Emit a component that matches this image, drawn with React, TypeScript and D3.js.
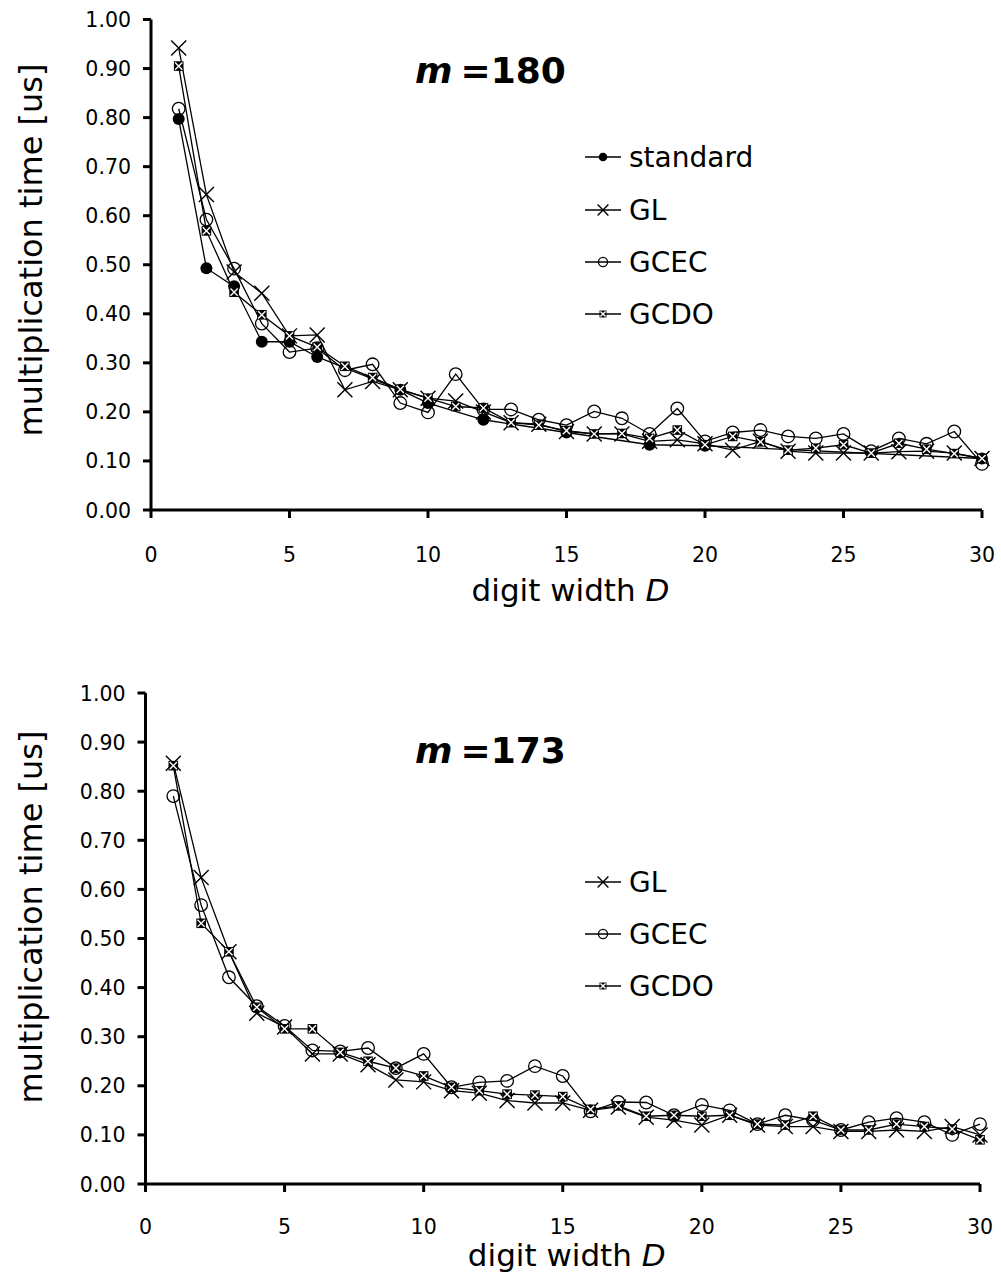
import React, { useEffect, useRef } from "react";
import * as d3 from "d3";

// digit width D on the x axis
const digitWidths = d3.range(1, 31);
const yTicks = [0, 0.1, 0.2, 0.3, 0.4, 0.5, 0.6, 0.7, 0.8, 0.9, 1.0];
const xTicks = [0, 5, 10, 15, 20, 25, 30];

// m = 180
const std180D = [1, 2, 3, 4, 5, 6, 9, 10, 12, 15, 18, 20, 30];
const std180 = [0.797, 0.493, 0.456, 0.343, 0.343, 0.312, 0.245, 0.218, 0.184, 0.158, 0.133, 0.131, 0.105];
const gl180 = [0.942, 0.643, 0.485, 0.442, 0.355, 0.357, 0.245, 0.262, 0.245, 0.228, 0.222, 0.2, 0.178, 0.175, 0.16,
  0.155, 0.155, 0.14, 0.143, 0.135, 0.122, 0.14, 0.12, 0.116, 0.116, 0.116, 0.119, 0.12, 0.116, 0.105];
const gcec180 = [0.818, 0.592, 0.492, 0.38, 0.322, 0.33, 0.285, 0.297, 0.218, 0.199, 0.277, 0.205, 0.205, 0.184, 0.173,
  0.201, 0.187, 0.155, 0.207, 0.14, 0.158, 0.163, 0.15, 0.146, 0.155, 0.12, 0.146, 0.135, 0.16, 0.094];
const gcdo180 = [0.905, 0.569, 0.444, 0.398, 0.355, 0.332, 0.293, 0.27, 0.246, 0.228, 0.211, 0.208, 0.178, 0.173, 0.162,
  0.155, 0.156, 0.146, 0.163, 0.133, 0.15, 0.139, 0.122, 0.126, 0.133, 0.116, 0.136, 0.124, 0.115, 0.105];

// m = 173
const gl173 = [0.857, 0.624, 0.473, 0.348, 0.32, 0.265, 0.265, 0.243, 0.212, 0.208, 0.19, 0.185, 0.17, 0.165, 0.165,
  0.15, 0.157, 0.136, 0.13, 0.12, 0.14, 0.12, 0.117, 0.117, 0.107, 0.107, 0.11, 0.107, 0.117, 0.1];
const gcec173 = [0.79, 0.568, 0.421, 0.362, 0.322, 0.272, 0.27, 0.277, 0.236, 0.265, 0.197, 0.207, 0.21, 0.24, 0.22,
  0.148, 0.167, 0.166, 0.14, 0.161, 0.15, 0.122, 0.14, 0.13, 0.11, 0.126, 0.134, 0.126, 0.1, 0.122];
const gcdo173 = [0.852, 0.531, 0.473, 0.36, 0.316, 0.316, 0.268, 0.25, 0.236, 0.22, 0.197, 0.19, 0.183, 0.181, 0.178,
  0.152, 0.159, 0.138, 0.14, 0.138, 0.14, 0.122, 0.12, 0.138, 0.11, 0.11, 0.122, 0.117, 0.112, 0.09];

const FONT = "DejaVu Sans, Verdana, sans-serif";

type Series = { name: string; marker: string; xs: number[]; ys: number[] };

function drawMarker(g: any, kind: string, cx: number, cy: number, k: number) {
  if (kind === "dot") {
    g.append("circle").attr("cx", cx).attr("cy", cy).attr("r", 6 * k).attr("fill", "#000");
  } else if (kind === "circle") {
    g.append("circle").attr("cx", cx).attr("cy", cy).attr("r", 6.3 * k)
      .attr("fill", "none").attr("stroke", "#000").attr("stroke-width", 1.3);
  } else if (kind === "x") {
    const s = 7.5 * k;
    g.append("path")
      .attr("d", `M${cx - s},${cy - s}L${cx + s},${cy + s}M${cx - s},${cy + s}L${cx + s},${cy - s}`)
      .attr("stroke", "#000").attr("stroke-width", 1.4);
  } else if (kind === "boxx") {
    const s = 4.8 * k;
    g.append("rect").attr("x", cx - s).attr("y", cy - s).attr("width", 2 * s).attr("height", 2 * s)
      .attr("fill", "#000");
    const t = s * 0.75;
    g.append("path")
      .attr("d", `M${cx - t},${cy - t}L${cx + t},${cy + t}M${cx - t},${cy + t}L${cx + t},${cy - t}`)
      .attr("stroke", "#fff").attr("stroke-width", 1.4);
  }
}

function drawChart(svg: any, cfg: any, series: Series[]) {
  const g = svg.append("g");
  const x = d3.scaleLinear().domain([0, 30]).range([cfg.x0, cfg.x1]);
  const y = d3.scaleLinear().domain([0, 1]).range([cfg.yBottom, cfg.yTop]);

  // axes lines
  g.append("line").attr("x1", x(0)).attr("x2", x(0)).attr("y1", y(1)).attr("y2", y(0))
    .attr("stroke", "#000").attr("stroke-width", 3);
  g.append("line").attr("x1", x(0)).attr("x2", x(30)).attr("y1", y(0)).attr("y2", y(0))
    .attr("stroke", "#000").attr("stroke-width", 3);

  // y ticks
  yTicks.forEach((v) => {
    g.append("line").attr("x1", x(0) - 8).attr("x2", x(0)).attr("y1", y(v)).attr("y2", y(v))
      .attr("stroke", "#000").attr("stroke-width", 3);
    g.append("text").attr("x", x(0) - 20).attr("y", y(v) + 7.5).attr("text-anchor", "end")
      .attr("font-family", FONT).attr("font-size", 20.5).text(d3.format(".2f")(v));
  });
  // x ticks
  xTicks.forEach((v) => {
    g.append("line").attr("x1", x(v)).attr("x2", x(v)).attr("y1", y(0)).attr("y2", y(0) + 8)
      .attr("stroke", "#000").attr("stroke-width", 3);
    g.append("text").attr("x", x(v)).attr("y", cfg.xTickY).attr("text-anchor", "middle")
      .attr("font-family", FONT).attr("font-size", 20.5).text(v);
  });

  // axis titles
  const xt = g.append("text").attr("x", (cfg.x0 + cfg.x1) / 2 + 4).attr("y", cfg.xTitleY)
    .attr("text-anchor", "middle").attr("font-family", FONT).attr("font-size", 31);
  xt.append("tspan").text("digit width ");
  xt.append("tspan").attr("font-style", "italic").text("D");

  g.append("text").attr("transform", `translate(${cfg.yTitleX},${cfg.yTitleY}) rotate(-90)`)
    .attr("text-anchor", "middle").attr("font-family", FONT).attr("font-size", 32)
    .text("multiplication time [us]");

  // title
  const tt = g.append("text").attr("x", cfg.titleX).attr("y", cfg.titleY)
    .attr("font-family", FONT).attr("font-size", 36).attr("font-weight", "bold");
  tt.append("tspan").attr("font-style", "italic").text("m");
  tt.append("tspan").attr("dx", 8).text("=" + cfg.m);

  // series
  const line = d3.line<[number, number]>().x((d) => x(d[0])).y((d) => y(d[1]));
  series.forEach((s) => {
    const pts: [number, number][] = s.xs.map((d, i) => [d, s.ys[i]]);
    g.append("path").datum(pts).attr("d", line).attr("fill", "none")
      .attr("stroke", "#000").attr("stroke-width", 1.3);
    pts.forEach((p) => drawMarker(g, s.marker, x(p[0]), y(p[1]), 1));
  });

  // legend
  series.forEach((s, i) => {
    const ly = cfg.legendY[i];
    g.append("line").attr("x1", cfg.legendX).attr("x2", cfg.legendX + 36).attr("y1", ly).attr("y2", ly)
      .attr("stroke", "#000").attr("stroke-width", 1.3);
    drawMarker(g, s.marker, cfg.legendX + 18, ly, 0.72);
    g.append("text").attr("x", cfg.legendX + 44).attr("y", ly + 10)
      .attr("font-family", FONT).attr("font-size", 28).text(s.name);
  });
}

const topCfg = {
  m: 180, x0: 151, x1: 982, yTop: 19.5, yBottom: 510, xTickY: 562, xTitleY: 601,
  yTitleX: 42, yTitleY: 250, titleX: 415, titleY: 83, legendX: 585, legendY: [157, 210, 262, 314],
};
const bottomCfg = {
  m: 173, x0: 145.5, x1: 980, yTop: 693, yBottom: 1184, xTickY: 1234, xTitleY: 1266,
  yTitleX: 42, yTitleY: 917, titleX: 415, titleY: 763, legendX: 585, legendY: [882, 934, 986],
};

export default function App() {
  const svgRef = useRef<SVGSVGElement>(null);

  useEffect(() => {
    const svg = d3.select(svgRef.current);
    svg.selectAll("*").remove();
    drawChart(svg, topCfg, [
      { name: "standard", marker: "dot", xs: std180D, ys: std180 },
      { name: "GL", marker: "x", xs: digitWidths, ys: gl180 },
      { name: "GCEC", marker: "circle", xs: digitWidths, ys: gcec180 },
      { name: "GCDO", marker: "boxx", xs: digitWidths, ys: gcdo180 },
    ]);
    drawChart(svg, bottomCfg, [
      { name: "GL", marker: "x", xs: digitWidths, ys: gl173 },
      { name: "GCEC", marker: "circle", xs: digitWidths, ys: gcec173 },
      { name: "GCDO", marker: "boxx", xs: digitWidths, ys: gcdo173 },
    ]);
  }, []);

  return (
    <svg ref={svgRef} width={1001} height={1281}
      style={{ position: "absolute", left: 0, top: 0, background: "#fff" }} />
  );
}
